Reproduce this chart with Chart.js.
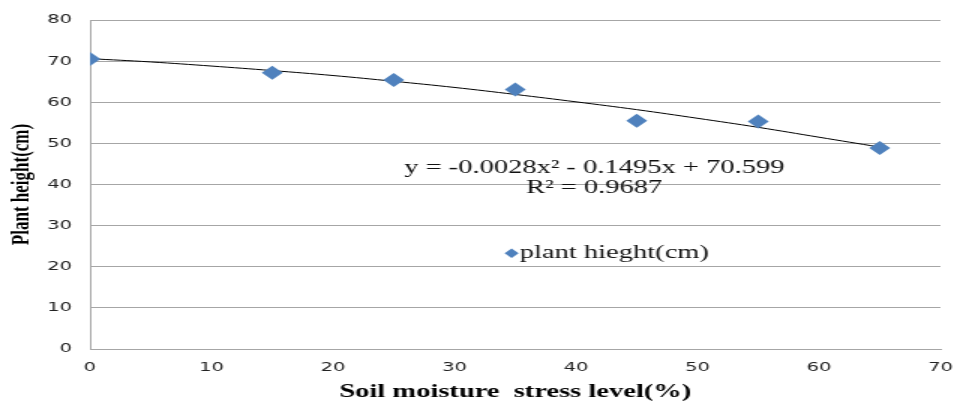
<!DOCTYPE html>
<html>
<head>
<meta charset="utf-8">
<script src="https://cdn.jsdelivr.net/npm/chart.js@4/dist/chart.umd.min.js"></script>
<style>
  html, body { margin: 0; padding: 0; background: #fff; overflow: hidden; }
  #wrap { width: 636px; height: 401px; transform: scaleX(1.5); transform-origin: 0 0; }
</style>
</head>
<body>
<div id="wrap"><canvas id="chart" width="636" height="401"></canvas></div>
<script>
// stress level (%) and measured plant height (cm)
const stressLevels = [0, 15, 25, 35, 45, 55, 65];
const plantHeights = [70.5, 67.2, 65.4, 63.1, 55.5, 55.3, 48.9];

// polynomial trend line
const trendX = [0, 5, 10, 15, 20, 25, 30, 35, 40, 45, 50, 55, 60, 65];
const trendY = [70.6, 69.8, 68.8, 67.7, 66.5, 65.1, 63.6, 61.9, 60.1, 58.2, 56.1, 53.9, 51.5, 49.1];

const yTicks = [0, 10, 20, 30, 40, 50, 60, 70, 80];
const xTicks = [0, 10, 20, 30, 40, 50, 60, 70];

const equationText = "y = -0.0028x\u00B2 - 0.1495x + 70.599";
const rSquaredText = "R\u00B2 = 0.9687";
const seriesLabel = "plant hieght(cm)";

const markerColor = "#4F81BD";
const gridColor = "#a6a6a6";

// equation and legend are drawn inside the plot, like the original sheet chart
const annotations = {
  id: "annotations",
  afterDatasetsDraw(chart) {
    const { ctx, scales: { x, y } } = chart;
    ctx.save();
    ctx.fillStyle = "#111";
    ctx.font = "19px 'Liberation Serif'";
    ctx.textAlign = "center";
    ctx.textBaseline = "middle";
    const ex = x.getPixelForValue(41.5);
    const ey = y.getPixelForValue(44.0);
    ctx.fillText(equationText, ex, ey);
    ctx.fillText(rSquaredText, ex, ey + 20);

    const lx = x.getPixelForValue(34.7);
    const ly = y.getPixelForValue(23.3);
    ctx.fillStyle = markerColor;
    ctx.beginPath();
    ctx.moveTo(lx, ly - 4.7);
    ctx.lineTo(lx + 4.7, ly);
    ctx.lineTo(lx, ly + 4.7);
    ctx.lineTo(lx - 4.7, ly);
    ctx.closePath();
    ctx.fill();
    ctx.fillStyle = "#111";
    ctx.textAlign = "left";
    ctx.fillText(seriesLabel, lx + 5.5, ly);
    ctx.restore();
  }
};

new Chart(document.getElementById("chart"), {
  type: "scatter",
  data: {
    datasets: [
      {
        label: seriesLabel,
        data: stressLevels.map((v, i) => ({ x: v, y: plantHeights[i] })),
        pointStyle: "rectRot",
        pointRadius: 7,
        backgroundColor: markerColor,
        borderColor: markerColor,
        borderWidth: 0,
        order: 1
      },
      {
        label: "trend",
        type: "line",
        data: trendX.map((v, i) => ({ x: v, y: trendY[i] })),
        borderColor: "#000",
        borderWidth: 1,
        pointRadius: 0,
        tension: 0.4,
        fill: false,
        order: 2
      }
    ]
  },
  options: {
    responsive: false,
    animation: false,
    events: [],
    layout: { padding: { top: 20, right: 9, left: 0, bottom: 0 } },
    plugins: {
      legend: { display: false },
      tooltip: { enabled: false }
    },
    scales: {
      x: {
        type: "linear",
        min: 0,
        max: 70,
        afterBuildTicks: (s) => { s.ticks = xTicks.map((v) => ({ value: v })); },
        afterFit: (s) => { s.height = 52; s.paddingRight = 8; s.paddingLeft = 0; },
        grid: { display: false, drawTicks: false },
        border: { display: true, color: gridColor, width: 1 },
        ticks: {
          padding: 11,
          color: "#222",
          font: { family: "'DejaVu Sans'", size: 13 },
          maxRotation: 0
        },
        title: {
          display: true,
          text: "Soil moisture  stress level(%)",
          color: "#000",
          padding: { top: 0, bottom: -2 },
          font: { family: "'Liberation Serif'", size: 19, weight: "bold" }
        }
      },
      y: {
        min: 0,
        max: 80,
        afterBuildTicks: (s) => { s.ticks = yTicks.map((v) => ({ value: v })); },
        afterFit: (s) => { s.width = 60; },
        grid: { color: gridColor, lineWidth: 1, drawTicks: false },
        border: { display: true, color: gridColor, width: 1 },
        ticks: {
          padding: 12,
          color: "#222",
          font: { family: "'DejaVu Sans'", size: 13 }
        },
        title: {
          display: true,
          text: "Plant height(cm)",
          color: "#000",
          padding: { top: 4, bottom: 0 },
          font: { family: "'Liberation Serif'", size: 17, weight: "bold" }
        }
      }
    }
  },
  plugins: [annotations]
});
</script>
</body>
</html>
